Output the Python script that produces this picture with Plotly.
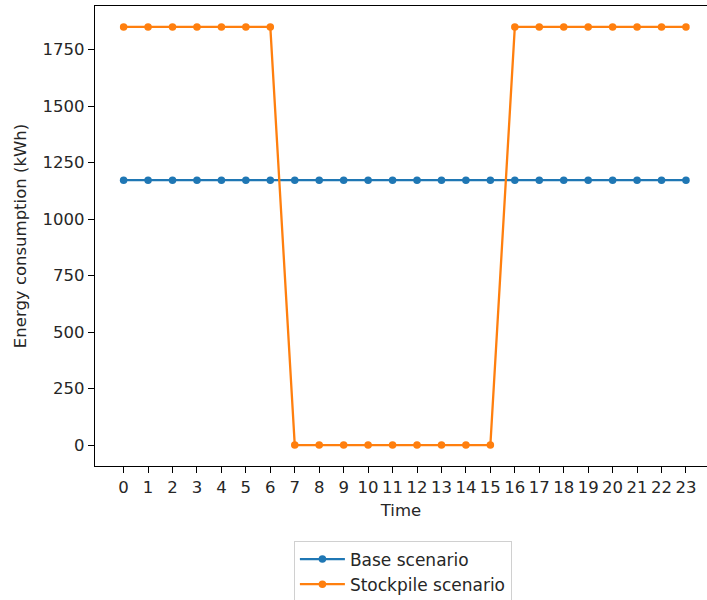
import plotly.graph_objects as go

hours = list(range(24))
base_scenario = [1172] * 24
stockpile_scenario = [1850, 1850, 1850, 1850, 1850, 1850, 1850,
                      0, 0, 0, 0, 0, 0, 0, 0, 0,
                      1850, 1850, 1850, 1850, 1850, 1850, 1850, 1850]

font = dict(family="DejaVu Sans", size=16.5, color="#262626")
legend_font = dict(family="DejaVu Sans", size=17, color="#262626")

fig = go.Figure()
fig.add_trace(go.Scatter(x=hours, y=base_scenario, mode="lines+markers",
                         name="Base scenario",
                         line=dict(color="#1f77b4", width=2.3),
                         marker=dict(color="#1f77b4", size=7.5)))
fig.add_trace(go.Scatter(x=hours, y=stockpile_scenario, mode="lines+markers",
                         name="Stockpile scenario",
                         line=dict(color="#ff7f0e", width=2.3),
                         marker=dict(color="#ff7f0e", size=7.5)))

fig.update_layout(
    width=707, height=600,
    margin=dict(l=95, r=0, t=6, b=134, autoexpand=False),
    paper_bgcolor="white", plot_bgcolor="white",
    font=font,
    showlegend=True,
    legend=dict(x=0.325, y=-0.162, xanchor="left", yanchor="top",
                bordercolor="#d0d0d0", borderwidth=1, bgcolor="white",
                font=legend_font, tracegroupgap=0, itemwidth=45),
)
fig.update_xaxes(
    range=[-1.17, 23.86], tickmode="array", tickvals=hours,
    ticktext=[str(h) for h in hours], automargin=False,
    showgrid=False, zeroline=False,
    showline=True, linecolor="black", linewidth=1.3, mirror=True,
    ticks="outside", ticklen=6, tickwidth=1.2, tickcolor="black",
    title=dict(text="Time", font=font, standoff=8),
)
fig.update_yaxes(
    range=[-92.5, 1942.5], tickmode="array",
    tickvals=[0, 250, 500, 750, 1000, 1250, 1500, 1750], automargin=False,
    showgrid=False, zeroline=False,
    showline=True, linecolor="black", linewidth=1.3, mirror=False,
    ticks="outside", ticklen=6, tickwidth=1.2, tickcolor="black",
    title=dict(text="Energy consumption (kWh)", font=font, standoff=11),
)

fig.write_html("out.html", config={"displayModeBar": False},
               post_script="document.body.style.margin='0px';document.body.style.overflow='hidden';")
